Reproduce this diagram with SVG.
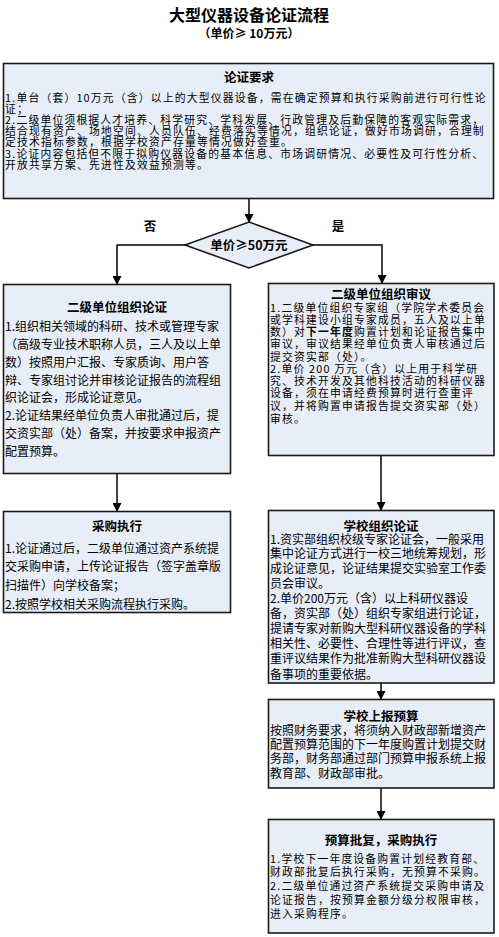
<svg xmlns="http://www.w3.org/2000/svg" width="499" height="937" viewBox="0 0 499 937">
<style>
.box{fill:#e8eef8;stroke:#1a1a1a;stroke-width:1.6}
.t{font-family:"Noto Sans CJK SC","Noto Sans",sans-serif;font-size:12px;fill:#000}
.s{font-family:"Noto Sans CJK SC","Noto Sans",sans-serif;font-size:10.8px;letter-spacing:1.2px;fill:#000}
.h{font-family:"Noto Sans CJK SC","Noto Sans",sans-serif;font-size:12.5px;font-weight:bold;fill:#000;text-anchor:middle}
.c{stroke:#000;stroke-width:1.5;fill:none;marker-end:url(#ah)}
</style>
<defs>
<marker id="ah" markerUnits="userSpaceOnUse" markerWidth="9" markerHeight="9" refX="8" refY="4.5" orient="auto">
<path d="M0,0 L9,4.5 L0,9 z" fill="#000"/>
</marker>
</defs>
<rect width="499" height="937" fill="#fff"/>
<g id="title">
<text x="249" y="21" style="font-family:'Noto Sans CJK SC',sans-serif;font-size:16px;font-weight:bold;text-anchor:middle">大型仪器设备论证流程</text>
<text x="249" y="38" style="font-family:'Noto Sans CJK SC',sans-serif;font-size:12px;font-weight:bold;text-anchor:middle">（单价≥ 10万元）</text>
</g>
<g id="connectors">
<path class="c" d="M249,199 L249,222"/>
<path class="c" d="M185,245 L117,245 L117,284"/>
<path class="c" d="M313,245 L382,245 L382,283"/>
<path class="c" d="M117,474 L117,511"/>
<path class="c" d="M381,456 L381,510"/>
<path class="c" d="M381,683 L381,699"/>
<path class="c" d="M381,788 L381,819"/>
<text x="150" y="231" class="h">否</text>
<text x="338" y="231" class="h">是</text>
</g>
<g id="req">
<rect class="box" x="3.5" y="63.5" width="490" height="135"/>
<text x="249" y="82" class="h">论证要求</text>
<text class="s" x="5" y="101.5">1.单台（套）10万元（含）以上的大型仪器设备，需在确定预算和执行采购前进行可行性论</text>
<text class="s" x="5" y="112.5">证；</text>
<text class="s" x="5" y="123.5">2.二级单位须根据人才培养、科学研究、学科发展、行政管理及后勤保障的客观实际需求，</text>
<text class="s" x="5" y="134.5">结合现有资产、场地空间、人员队伍、经费落实等情况，组织论证，做好市场调研，合理制</text>
<text class="s" x="5" y="145.5">定技术指标参数，根据学校资产存量等情况做好查重。</text>
<text class="s" x="5" y="157.5">3.论证内容包括但不限于拟购仪器设备的基本信息、市场调研情况、必要性及可行性分析、</text>
<text class="s" x="5" y="168.5">开放共享方案、先进性及效益预测等。</text>
</g>
<g id="decision">
<polygon class="box" points="249,222 313,245 249,268 185,245"/>
<text x="249" y="249.5" class="h">单价≥50万元</text>
</g>
<g id="left1">
<rect class="box" x="3.5" y="284.5" width="227" height="189"/>
<text x="117" y="312" class="h">二级单位组织论证</text>
<text class="t" x="5" y="331">1.组织相关领域的科研、技术或管理专家</text>
<text class="t" x="5" y="349">（高级专业技术职称人员，三人及以上单</text>
<text class="t" x="5" y="367">数）按照用户汇报、专家质询、用户答</text>
<text class="t" x="5" y="384.5">辩、专家组讨论并审核论证报告的流程组</text>
<text class="t" x="5" y="402">织论证会，形成论证意见。</text>
<text class="t" x="5" y="419.5">2.论证结果经单位负责人审批通过后，提</text>
<text class="t" x="5" y="437.5">交资实部（处）备案，并按要求申报资产</text>
<text class="t" x="5" y="456">配置预算。</text>
</g>
<g id="left2">
<rect class="box" x="3.5" y="511.5" width="227" height="101"/>
<text x="117" y="531" class="h">采购执行</text>
<text class="t" x="5" y="552.5">1.论证通过后，二级单位通过资产系统提</text>
<text class="t" x="5" y="571">交采购申请，上传论证报告（签字盖章版</text>
<text class="t" x="5" y="590">扫描件）向学校备案；</text>
<text class="t" x="5" y="608.5">2.按照学校相关采购流程执行采购。</text>
</g>
<g id="right1">
<rect class="box" x="268.5" y="283.5" width="225.5" height="172"/>
<text x="381" y="299" class="h">二级单位组织审议</text>
<text class="s" x="270" y="311.5">1.二级单位组织专家组（学院学术委员会</text>
<text class="s" x="270" y="324">或学科建设小组专家成员，五人及以上单</text>
<text class="s" x="270" y="336">数）对<tspan font-weight="bold">下一年度</tspan>购置计划和论证报告集中</text>
<text class="s" x="270" y="348">审议，审议结果经单位负责人审核通过后</text>
<text class="s" x="270" y="360.5">提交资实部（处）。</text>
<text class="s" x="270" y="373">2.单价 200 万元（含）以上用于科学研</text>
<text class="s" x="270" y="385">究、技术开发及其他科技活动的科研仪器</text>
<text class="s" x="270" y="397">设备，须在申请经费预算时进行查重评</text>
<text class="s" x="270" y="409.5">议，并将购置申请报告提交资实部（处）</text>
<text class="s" x="270" y="423">审核。</text>
</g>
<g id="right2">
<rect class="box" x="268.5" y="510.5" width="225.5" height="172.5"/>
<text x="381" y="531" class="h">学校组织论证</text>
<text class="t" x="270" y="543.5">1.资实部组织校级专家论证会，一般采用</text>
<text class="t" x="270" y="558">集中论证方式进行一校三地统筹规划，形</text>
<text class="t" x="270" y="573">成论证意见，论证结果提交实验室工作委</text>
<text class="t" x="270" y="588">员会审议。</text>
<text class="t" x="270" y="603">2.单价200万元（含）以上科研仪器设</text>
<text class="t" x="270" y="618">备，资实部（处）组织专家组进行论证，</text>
<text class="t" x="270" y="633">提请专家对新购大型科研仪器设备的学科</text>
<text class="t" x="270" y="648">相关性、必要性、合理性等进行评议，查</text>
<text class="t" x="270" y="663">重评议结果作为批准新购大型科研仪器设</text>
<text class="t" x="270" y="678.5">备事项的重要依据。</text>
</g>
<g id="right3">
<rect class="box" x="268.5" y="699.5" width="225.5" height="88.5"/>
<text x="381" y="721" class="h">学校上报预算</text>
<text class="t" x="270" y="734.5">按照财务要求，将须纳入财政部新增资产</text>
<text class="t" x="270" y="748.5">配置预算范围的下一年度购置计划提交财</text>
<text class="t" x="270" y="763">务部，财务部通过部门预算申报系统上报</text>
<text class="t" x="270" y="777.5">教育部、财政部审批。</text>
</g>
<g id="right4">
<rect class="box" x="268.5" y="819.5" width="225.5" height="113.5"/>
<text x="381" y="845" class="h">预算批复，采购执行</text>
<text class="s" x="270" y="862.5">1.学校下一年度设备购置计划经教育部、</text>
<text class="s" x="270" y="876">财政部批复后执行采购，无预算不采购。</text>
<text class="s" x="270" y="890">2.二级单位通过资产系统提交采购申请及</text>
<text class="s" x="270" y="904">论证报告，按预算金额分级分权限审核，</text>
<text class="s" x="270" y="918">进入采购程序。</text>
</g>
</svg>
